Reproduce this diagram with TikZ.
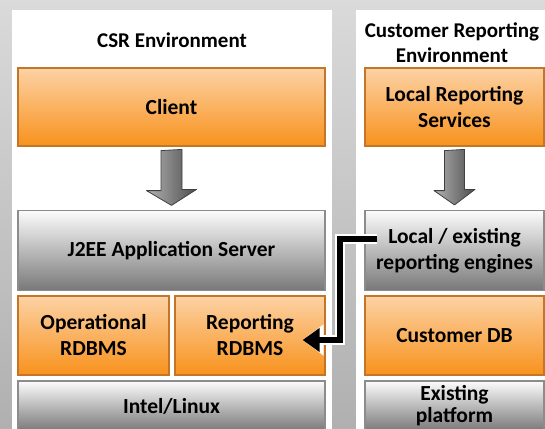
\documentclass[tikz,border=0pt]{standalone}
\usepackage{fontspec}
\setmainfont{Carlito}
\usetikzlibrary{positioning,arrows.meta,calc}

\definecolor{orangetop}{RGB}{252,210,165}
\definecolor{orangebot}{RGB}{248,146,28}
\definecolor{orangeline}{RGB}{196,118,40}
\definecolor{greytop}{RGB}{252,252,252}
\definecolor{greymid}{RGB}{205,205,205}
\definecolor{greybot}{RGB}{120,120,120}
\definecolor{greyline}{RGB}{140,140,140}
\definecolor{bgtop}{RGB}{218,218,218}
\definecolor{bgbot}{RGB}{176,176,176}

\begin{document}
\begin{tikzpicture}[x=1pt,y=-1pt]
\tikzset{
  layer/.style={rectangle, align=center, inner sep=0pt, line width=1.2pt,
    font=\fontsize{21.5}{26}\selectfont\bfseries},
  orangebox/.style={layer, draw=orangeline, top color=orangetop, bottom color=orangebot},
  greybox/.style={layer, draw=greyline, top color=greytop, middle color=greymid, bottom color=greybot},
  title/.style={align=center, font=\fontsize{21}{25}\selectfont\bfseries},
  downarrow/.style={draw=black!75, line width=0.8pt, left color=black!30, right color=black!70, line join=round},
  feed/.style={line width=6pt, -{Triangle[length=17pt,width=23pt]},
    preaction={draw=white, line width=10pt, -{Triangle[length=21pt,width=30pt]}}}
}
\useasboundingbox (0,0) rectangle (545,428);
\clip (0,0) rectangle (545,428);
% background and the two environments
\shade[top color=bgtop, bottom color=bgbot] (0,0) rectangle (545,428);
\fill[white] (11.5,10) rectangle (332,440);
\fill[white] (356,10) rectangle (560,440);

\node[title] (csrtitle) at (172,40) {CSR Environment};
\node[title] (crtitle) at (452,43) {Customer Reporting\\Environment};

% CSR stack
\node[orangebox, minimum width=307, minimum height=78] (client) at (171.5,107) {Client};
\node[greybox, minimum width=307, minimum height=80] (j2ee) at (171.5,250.5) {J2EE Application Server};
\node[orangebox, minimum width=151, minimum height=79] (oprdb) at (93.5,335.5) {Operational\\RDBMS};
\node[orangebox, minimum width=150, minimum height=79] (reprdb) at (250,335.5) {Reporting\\RDBMS};
\node[greybox, minimum width=307, minimum height=50] (intel) at (171.5,406) {Intel/Linux};

% customer stack
\node[orangebox, minimum width=179, minimum height=78] (lrs) at (454.5,107) {Local Reporting\\Services};
\node[greybox, minimum width=179, minimum height=80] (loceng) at (454.5,250.5) {Local / existing\\reporting engines};
\node[orangebox, minimum width=179, minimum height=79] (custdb) at (454.5,335.5) {Customer DB};
\node[greybox, minimum width=179, minimum height=50, font=\fontsize{21.5}{22}\selectfont\bfseries] (existing) at (454.5,406) {Existing\\platform};

% block arrows
\path[downarrow] ($(client.south)+(-10.5,4)$) -- ++(0,40) -- ++(-14.5,0)
  -- ($(j2ee.north)+(0,-4.5)$) -- ++(25,-16) -- ++(-14.5,0) -- ++(0,-40) -- cycle;
\path[downarrow] ($(lrs.south)+(-10,4)$) -- ++(0,40) -- ++(-10.5,0)
  -- ($(loceng.north)+(0,-5)$) -- ++(20.5,-15.5) -- ++(-10.5,0) -- ++(0,-40) -- cycle;

% feed into the reporting database
\coordinate (feedstart) at ([xshift=13pt,yshift=12pt]loceng.west);
\coordinate (feedend) at ([xshift=-23pt,yshift=-4.5pt]reprdb.east);
\draw[feed] (feedstart) -- ++(-37,0) |- (feedend);
\end{tikzpicture}
\end{document}
